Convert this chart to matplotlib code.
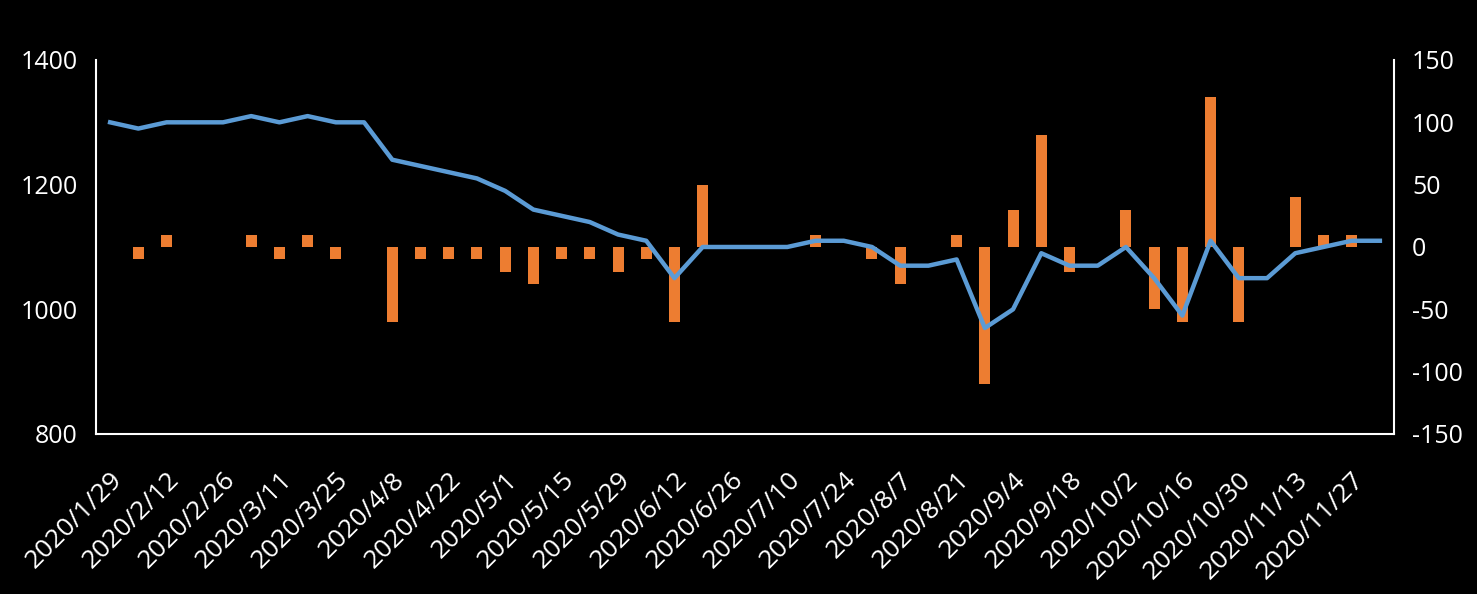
import numpy as np
import matplotlib
matplotlib.use('Agg')
import matplotlib.pyplot as plt
from matplotlib.transforms import ScaledTranslation

plt.rcParams['font.family'] = ['Open Sans', 'DejaVu Sans']
plt.rcParams['axes.unicode_minus'] = False

dates = ['2020/1/29', '2020/2/5', '2020/2/12', '2020/2/19', '2020/2/26', '2020/3/4',
         '2020/3/11', '2020/3/18', '2020/3/25', '2020/4/1', '2020/4/8', '2020/4/15',
         '2020/4/22', '2020/4/29', '2020/5/1', '2020/5/8', '2020/5/15', '2020/5/22',
         '2020/5/29', '2020/6/5', '2020/6/12', '2020/6/19', '2020/6/26', '2020/7/3',
         '2020/7/10', '2020/7/17', '2020/7/24', '2020/7/31', '2020/8/7', '2020/8/14',
         '2020/8/21', '2020/8/28', '2020/9/4', '2020/9/11', '2020/9/18', '2020/9/25',
         '2020/10/2', '2020/10/9', '2020/10/16', '2020/10/23', '2020/10/30', '2020/11/6',
         '2020/11/13', '2020/11/20', '2020/11/27', '2020/12/4']

price = [1300, 1290, 1300, 1300, 1300, 1310, 1300, 1310, 1300, 1300,
         1240, 1230, 1220, 1210, 1190, 1160, 1150, 1140, 1120, 1110,
         1050, 1100, 1100, 1100, 1100, 1110, 1110, 1100, 1070, 1070,
         1080, 970, 1000, 1090, 1070, 1070, 1100, 1050, 990, 1110,
         1050, 1050, 1090, 1100, 1110, 1110]

change = [0, -10, 10, 0, 0, 10, -10, 10, -10, 0,
          -60, -10, -10, -10, -20, -30, -10, -10, -20, -10,
          -60, 50, 0, 0, 0, 10, 0, -10, -30, 0,
          10, -110, 30, 90, -20, 0, 30, -50, -60, 120,
          -60, 0, 40, 10, 10, 0]

x = np.arange(len(dates))

fig = plt.figure(figsize=(14.77, 5.94), dpi=100, facecolor='black')
ax = fig.add_axes([0.065, 0.2694, 0.8788, 0.6296])
ax2 = ax.twinx()

ax2.bar(x, change, width=0.39, color='#ED7D31')
ax.plot(x, price, color='#5B9BD5', lw=3.2, solid_joinstyle='round')

ax.set_zorder(ax2.get_zorder() + 1)
ax.patch.set_visible(False)

ax.set_xlim(-0.5, len(dates) - 0.5)
ax.set_ylim(800, 1400)
ax.set_yticks([800, 1000, 1200, 1400])
ax2.set_ylim(-150, 150)
ax2.set_yticks([-150, -100, -50, 0, 50, 100, 150])

ax.set_xticks(x[::2])
ax.set_xticklabels(dates[::2], rotation=45, ha='right', va='top', rotation_mode='anchor')
off = ScaledTranslation(5 / 100, 0, fig.dpi_scale_trans)
for lab in ax.get_xticklabels():
    lab.set_transform(lab.get_transform() + off)

for a in (ax, ax2):
    for s in a.spines.values():
        s.set_visible(False)
    a.tick_params(colors='white', length=0, labelsize=18)
ax.tick_params(axis='y', pad=13)
ax2.tick_params(axis='y', pad=13)
ax.tick_params(axis='x', pad=24, labelsize=19)
ax.spines['left'].set_visible(True)
ax.spines['bottom'].set_visible(True)
ax2.spines['right'].set_visible(True)
for s in (ax.spines['left'], ax.spines['bottom'], ax2.spines['right']):
    s.set_color('white')
    s.set_linewidth(1.5)

fig.savefig('out.png', dpi=100, facecolor='black')
